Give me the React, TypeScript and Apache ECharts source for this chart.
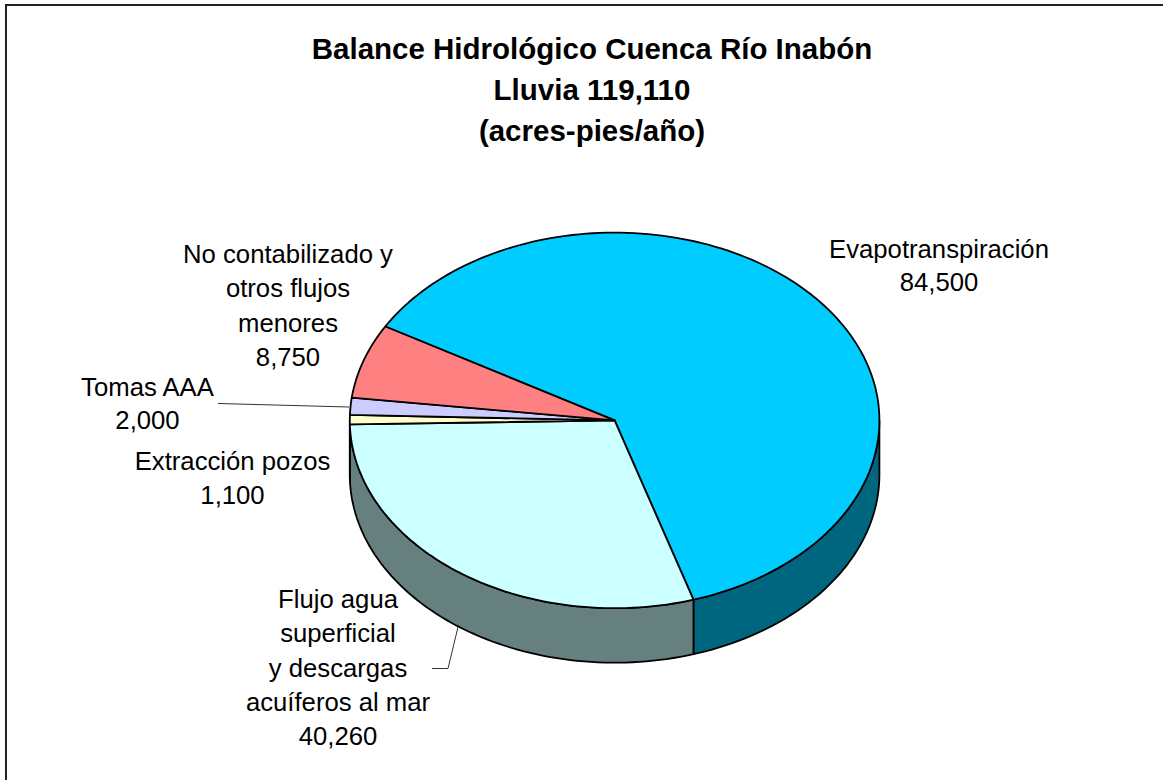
import React, { useEffect, useRef } from "react";
import * as echarts from "echarts";

const titleLines = ["Balance Hidrológico Cuenca Río Inabón", "Lluvia 119,110", "(acres-pies/año)"];
const categories = [
  "Evapotranspiración",
  "Flujo agua\nsuperficial\ny descargas\nacuíferos al mar",
  "Extracción pozos",
  "Tomas AAA",
  "No contabilizado y\notros flujos\nmenores",
];
const values = [84500, 40260, 1100, 2000, 8750];
const valueLabels = ["84,500", "40,260", "1,100", "2,000", "8,750"];
const topColors = ["#00CCFF", "#CCFFFF", "#FFFFCC", "#CCCCFF", "#FF8080"];
const wallColors = ["#006680", "#668080", "#808066", "#666680", "#804040"];
const labelAnchors = [
  [939, 232],
  [338, 582],
  [232.5, 444],
  [147.5, 371],
  [288, 237],
];
const LABEL_LINES = [33, 34.3, 34, 32.5, 34.3];
const CX = 614.6;
const CY = 420.4;
const RX = 264.8;
const RY = 187.8;
const DEPTH = 54.5;
const START = 300;

const total = values.reduce((a, b) => a + b, 0);
const pt = (deg: number, dy = 0): number[] => {
  const r = (deg * Math.PI) / 180;
  return [CX + RX * Math.sin(r), CY - RY * Math.cos(r) + dy];
};
const sliceRange = (i: number): number[] => {
  const before = values.slice(0, i).reduce((a, b) => a + b, 0);
  const a0 = START + (before / total) * 360;
  return [a0, a0 + (values[i] / total) * 360];
};
const arc = (a0: number, a1: number, dy = 0): number[][] => {
  const n = Math.max(2, Math.ceil(Math.abs(a1 - a0) / 1.5));
  return Array.from({ length: n + 1 }, (_, k) => pt(a0 + ((a1 - a0) * k) / n, dy));
};

const renderTop = (params: any) => {
  const i = params.dataIndex;
  const [a0, a1] = sliceRange(i);
  return {
    type: "polygon",
    shape: { points: [[CX, CY], ...arc(a0, a1)] },
    style: { fill: topColors[i], stroke: "#000", lineWidth: 1.8, lineJoin: "round" },
  };
};

const renderWall = (params: any) => {
  const i = params.dataIndex;
  const [r0, r1] = sliceRange(i);
  // Only the front half of the rim (90° to 270° clockwise from the top) is visible.
  const children: any[] = [];
  [0, 360].forEach((offset) => {
    const a0 = Math.max(r0, 90 + offset);
    const a1 = Math.min(r1, 270 + offset);
    if (a1 > a0) {
      children.push({
        type: "polygon",
        shape: { points: [...arc(a0, a1), ...arc(a1, a0, DEPTH)] },
        style: { fill: wallColors[i], stroke: "#000", lineWidth: 1.8, lineJoin: "round" },
      });
    }
  });
  return { type: "group", children };
};

export default function App() {
  const ref = useRef<HTMLDivElement>(null);
  useEffect(() => {
    const chart = echarts.init(ref.current!, null, { renderer: "svg" });
    const labelFont = { fontFamily: "Liberation Sans, Arial, sans-serif", fontSize: 25.7, fill: "#000" };
    chart.setOption({
      animation: false,
      backgroundColor: "#fff",
      title: {
        text: titleLines.join("\n"),
        left: 587,
        top: 23,
        textAlign: "center",
        textStyle: {
          fontFamily: "Liberation Sans, Arial, sans-serif",
          fontSize: 29.5,
          fontWeight: "bold",
          color: "#000",
          lineHeight: 41,
        },
      },
      xAxis: { show: false },
      yAxis: { show: false },
      series: [
        {
          type: "custom",
          coordinateSystem: "none",
          renderItem: renderWall,
          data: values.map((v) => [v]),
          silent: true,
          z: 1,
        },
        {
          type: "custom",
          coordinateSystem: "none",
          renderItem: renderTop,
          data: values.map((v) => [v]),
          silent: true,
          z: 2,
        },
      ],
      graphic: [
        {
          type: "polyline",
          shape: { points: [[6, 780], [6, 5], [1163, 5]] },
          style: { fill: "none", stroke: "#222", lineWidth: 2 },
          z: 0,
        },
        {
          type: "line",
          shape: { x1: 218, y1: 403.5, x2: 349, y2: 407 },
          style: { stroke: "#333", lineWidth: 1 },
          z: 3,
        },
        {
          type: "polyline",
          shape: { points: [[432, 668.5], [448, 668.5], [458, 627]] },
          style: { fill: "none", stroke: "#333", lineWidth: 1 },
          z: 3,
        },
        ...categories.map((c, i) => ({
          type: "text",
          x: labelAnchors[i][0],
          y: labelAnchors[i][1],
          z: 4,
          style: {
            ...labelFont,
            text: `${c}\n${valueLabels[i]}`,
            textAlign: "center",
            textVerticalAlign: "top",
            lineHeight: LABEL_LINES[i],
          },
        })),
      ],
    });
    return () => chart.dispose();
  }, []);
  return <div ref={ref} style={{ position: "fixed", left: 0, top: 0, width: 1163, height: 780 }} />;
}
